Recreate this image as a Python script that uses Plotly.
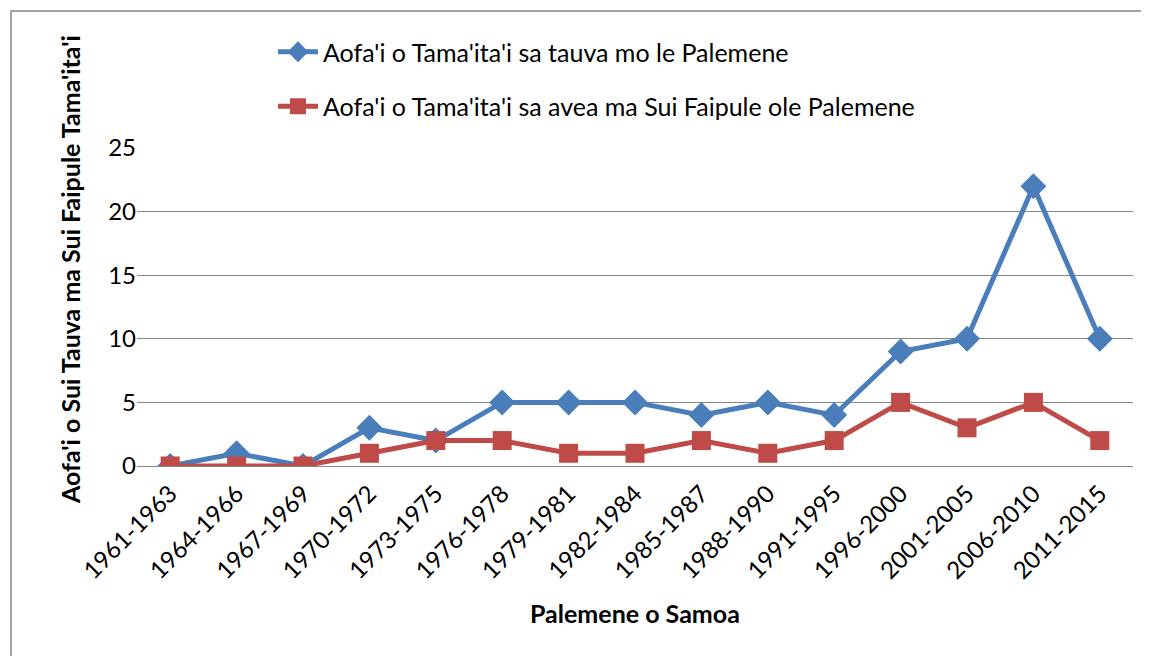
import plotly.graph_objects as go

categories = ["1961-1963", "1964-1966", "1967-1969", "1970-1972", "1973-1975",
              "1976-1978", "1979-1981", "1982-1984", "1985-1987", "1988-1990",
              "1991-1995", "1996-2000", "2001-2005", "2006-2010", "2011-2015"]
contested = [0, 1, 0, 3, 2, 5, 5, 5, 4, 5, 4, 9, 10, 22, 10]
elected = [0, 0, 0, 1, 2, 2, 1, 1, 2, 1, 2, 5, 3, 5, 2]
name_contested = "Aofa'i o Tama'ita'i sa tauva mo le Palemene"
name_elected = "Aofa'i o Tama'ita'i sa avea ma Sui Faipule ole Palemene"
y_ticks = [0, 5, 10, 15, 20, 25]

FONT = "Lato"
OFF = 8  # page body margin
W, H = 1149 - OFF, 656 - OFF
# screen-pixel targets
PL, PR, PT, PB = 137, 1133, 148, 466
L, T = PL - OFF, PT - OFF
R = W - (PR - OFF)
B = H - (PB - OFF)
pw, ph = PR - PL, PB - PT

def px_x(x):
    return (x - PL) / pw

def px_y(y):
    return (PB - y) / ph

fig = go.Figure()
fig.add_trace(go.Scatter(
    x=categories, y=contested, name=name_contested, mode="lines+markers",
    line=dict(color="#4A7EBB", width=5),
    marker=dict(symbol="diamond", size=20, color="#4A7EBB"),
    legendgroup="a",
))
fig.add_trace(go.Scatter(
    x=categories, y=elected, name=name_elected, mode="lines+markers",
    line=dict(color="#BE4B48", width=5),
    marker=dict(symbol="square", size=19, color="#BE4B48"),
    legendgroup="b",
))

fig.update_layout(
    width=W, height=H,
    margin=dict(l=L, r=R, t=T, b=B),
    paper_bgcolor="white", plot_bgcolor="white",
    font=dict(family=FONT, size=24, color="black"),
    showlegend=True,
    legend=dict(x=px_x(273), y=px_y(29), xanchor="left", yanchor="top",
                tracegroupgap=19, font=dict(family=FONT, size=25),
                itemwidth=40, bgcolor="rgba(0,0,0,0)"),
    xaxis=dict(type="category", range=[-0.5, 14.5], tickangle=-45,
               showgrid=False, showline=False, ticks="",
               ticklabelstandoff=8,
               tickfont=dict(family=FONT, size=24)),
    yaxis=dict(range=[0, 25], tickvals=y_ticks, showgrid=True,
               gridcolor="#868686", gridwidth=1, zeroline=True,
               zerolinecolor="#868686", zerolinewidth=1, showline=False,
               ticks="", tickfont=dict(family=FONT, size=24)),
)

fig.add_annotation(
    text="<b>Aofa'i o Sui Tauva ma Sui Faipule Tama'ita'i</b>",
    xref="paper", yref="paper", x=px_x(70), y=px_y(270),
    textangle=-90, showarrow=False, font=dict(family=FONT, size=25),
    xanchor="center", yanchor="middle",
)
fig.add_annotation(
    text="<b>Palemene o Samoa</b>",
    xref="paper", yref="paper", x=px_x(635), y=px_y(613),
    showarrow=False, font=dict(family=FONT, size=25),
    xanchor="center", yanchor="middle",
)
fig.add_shape(
    type="rect", xref="paper", yref="paper",
    x0=px_x(11), x1=px_x(1146), y0=px_y(662), y1=px_y(11),
    line=dict(color="#868686", width=1.5), fillcolor="rgba(0,0,0,0)",
    layer="below",
)

fig.write_html("out.html")
